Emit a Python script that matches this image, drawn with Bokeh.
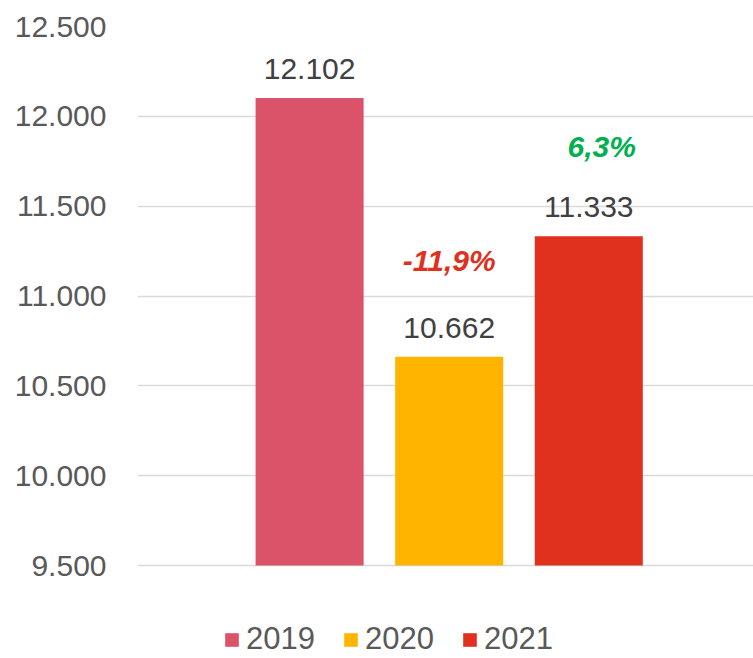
from bokeh.plotting import figure
from bokeh.models import ColumnDataSource, FixedTicker, Range1d, Legend, LegendItem
from bokeh.core.properties import value
from bokeh.embed import file_html
from bokeh.resources import INLINE

years = ["2019", "2020", "2021"]
values = [12102, 10662, 11333]
colors = ["#DA5369", "#FFB400", "#E0301E"]
pct_labels = ["-11,9%", "6,3%"]
pct_colors = ["#E0301E", "#00B050"]
y_ticks = [9500, 10000, 10500, 11000, 11500, 12000, 12500]
y_tick_labels = ["9.500", "10.000", "10.500", "11.000", "11.500", "12.000", "12.500"]
axis_min = 9500

FONT = "Liberation Sans"

xs = [1, 2, 3]
src = ColumnDataSource(dict(
    x=xs, top=values, color=colors, year=years,
    label=[f"{v:,}".replace(",", ".") for v in values],
))

# frame extends below the axis minimum to host the legend (93px at 0.1797 px/unit)
p = figure(width=753, height=658, output_backend="svg", toolbar_location=None,
           x_range=Range1d(-0.233, 4.18), y_range=Range1d(axis_min - 517.5, 12500),
           min_border_left=137, min_border_right=0, min_border_top=26,
           min_border_bottom=0, outline_line_color=None)

renderers = []
for i in range(3):
    r = p.vbar(x=[xs[i]], top=[values[i]], bottom=axis_min, width=0.774,
               fill_color=colors[i], line_color=None)
    renderers.append(r)

# value labels
p.text(x="x", y="top", text="label", source=src, text_align="center",
       text_baseline="middle", y_offset=-29, text_font=value(FONT),
       text_font_size="30px", text_color="#404040")

# percentage change labels
p.text(x=[xs[1]], y=[values[1]], text=[pct_labels[0]], text_align="center",
       text_baseline="middle", y_offset=-96, text_font=value(FONT),
       text_font_size="30px", text_font_style="bold italic", text_color=pct_colors[0])
p.text(x=[xs[2]], y=[values[2]], text=[pct_labels[1]], text_align="center",
       text_baseline="middle", x_offset=13, y_offset=-90, text_font=value(FONT),
       text_font_size="30px", text_font_style="bold italic", text_color=pct_colors[1])

p.xaxis.visible = False
p.xgrid.visible = False
p.yaxis.ticker = FixedTicker(ticks=y_ticks)
p.yaxis.major_label_overrides = dict(zip(y_ticks, y_tick_labels))
p.yaxis.axis_line_color = None
p.yaxis.major_tick_line_color = None
p.yaxis.major_tick_out = 0
p.yaxis.major_tick_in = 0
p.yaxis.minor_tick_line_color = None
p.yaxis.minor_tick_out = 0
p.yaxis.major_label_standoff = 31
p.yaxis.major_label_text_font = FONT
p.yaxis.major_label_text_font_size = "30px"
p.yaxis.major_label_text_color = "#595959"
p.ygrid.ticker = FixedTicker(ticks=y_ticks)
p.ygrid.grid_line_color = "#D9D9D9"
p.ygrid.grid_line_width = 1.5

legend = Legend(items=[LegendItem(label=years[i], renderers=[renderers[i]]) for i in range(3)],
                orientation="horizontal", location=(86, 1),
                glyph_width=17, glyph_height=17, label_standoff=6, spacing=27,
                padding=0, margin=0, border_line_color=None, background_fill_alpha=0,
                label_text_font=FONT, label_text_font_size="31px",
                label_text_color="#595959", label_height=17)
p.add_layout(legend, "center")

open("out.html", "w").write(file_html(p, INLINE))
